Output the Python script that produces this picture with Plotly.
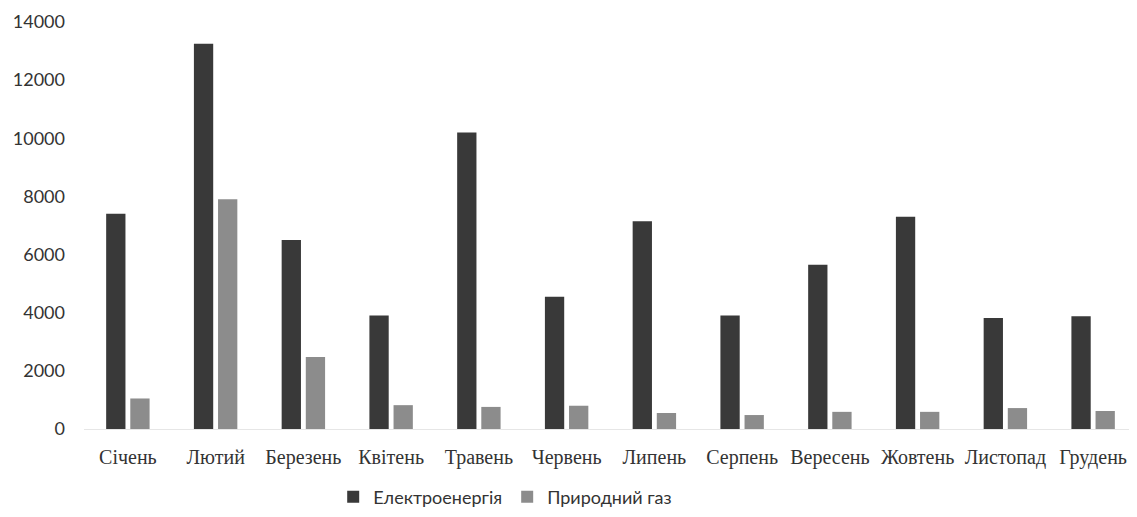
import plotly.graph_objects as go

months = ["Січень", "Лютий", "Березень", "Квітень", "Травень", "Червень",
          "Липень", "Серпень", "Вересень", "Жовтень", "Листопад", "Грудень"]
electricity = [7400, 13250, 6500, 3900, 10200, 4550, 7150, 3900, 5650, 7300, 3820, 3880]
natural_gas = [1050, 7900, 2480, 820, 760, 800, 550, 480, 590, 590, 720, 620]
y_ticks = [0, 2000, 4000, 6000, 8000, 10000, 12000, 14000]

fig = go.Figure()
fig.add_trace(go.Bar(x=months, y=electricity, name="Електроенергія",
                     marker=dict(color="#393939", line=dict(width=0))))
fig.add_trace(go.Bar(x=months, y=natural_gas, name="Природний газ",
                     marker=dict(color="#8c8c8c", line=dict(width=0))))

fig.update_layout(
    width=1129, height=509, autosize=False,
    margin=dict(l=76, r=0, t=14, b=88, autoexpand=False),
    paper_bgcolor="white", plot_bgcolor="white",
    barmode="group", bargap=0.45, bargroupgap=0.2,
    showlegend=True,
    legend=dict(orientation="h", x=0.40, xanchor="center", y=-0.167, yanchor="middle",
                font=dict(family="Lato, Open Sans, sans-serif", size=18, color="#333333"),
                itemwidth=30, traceorder="normal"),
    xaxis=dict(tickfont=dict(family="Liberation Serif, Times New Roman, serif", size=20, color="#333333"),
               showgrid=False, showline=True, linecolor="#e6e6e6", linewidth=1,
               ticks="", ticklabelstandoff=10, zeroline=False, automargin=False),
    yaxis=dict(range=[0, 14000], tickvals=y_ticks, ticktext=[str(v) for v in y_ticks],
               tickfont=dict(family="Lato, Open Sans, sans-serif", size=18, color="#333333"),
               showgrid=False, zeroline=False, showline=False, ticks="",
               ticklabelstandoff=18, automargin=False),
)

fig.write_html("out.html")
